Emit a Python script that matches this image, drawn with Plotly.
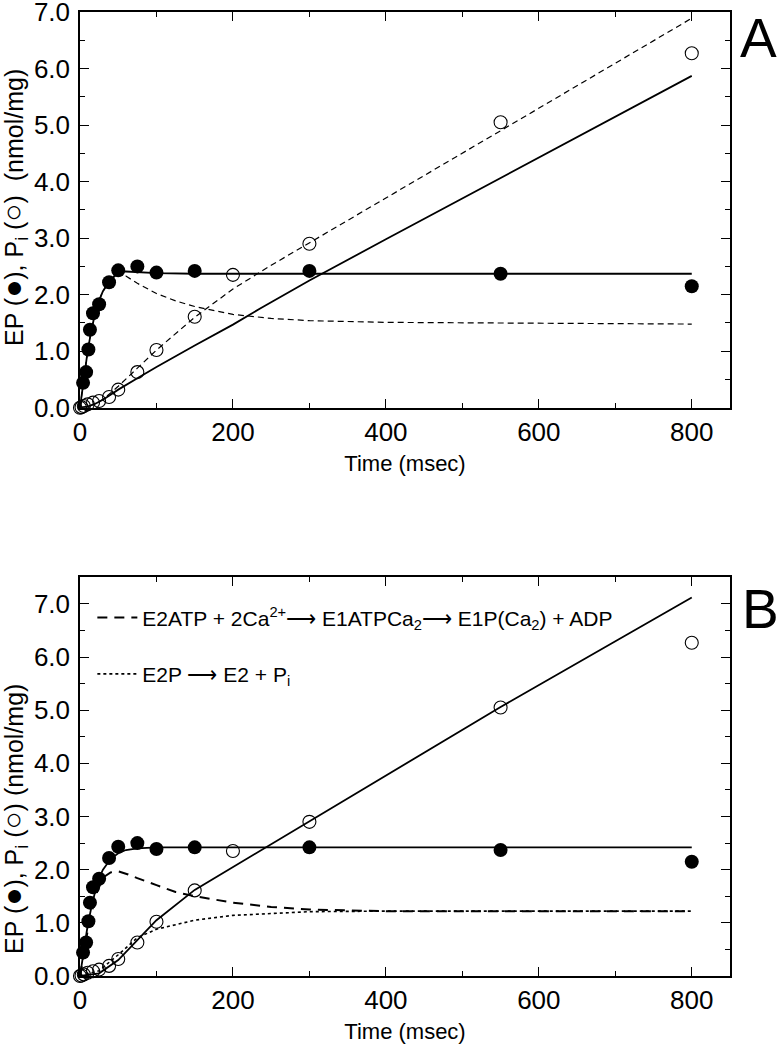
import plotly.graph_objects as go

# ---------------- data ----------------
# Measured points (same data in both panels)
t_ep = [4, 8, 11, 13, 17, 25, 38, 50, 75, 100, 150, 300, 550, 800]
ep = [0.44, 0.63, 1.03, 1.38, 1.67, 1.83, 2.22, 2.43, 2.50, 2.39, 2.42, 2.42, 2.37, 2.15]

t_pi = [0, 2, 5, 10, 17, 25, 38, 50, 75, 100, 150, 200, 300, 550, 800]
pi = [0.0, 0.01, 0.03, 0.06, 0.09, 0.12, 0.19, 0.32, 0.63, 1.02, 1.61, 2.35, 2.90, 5.05, 6.27]

# Panel A simulated curves
tA_ep_fit = [0, 5, 10, 15, 20, 25, 30, 40, 50, 60, 75, 100, 150, 200, 400, 800]
yA_ep_fit = [0, 0.55, 1.0, 1.38, 1.68, 1.90, 2.06, 2.27, 2.38, 2.41, 2.40, 2.38, 2.37, 2.37, 2.37, 2.37]
tA_pi_fit = [0, 10, 20, 30, 40, 50, 75, 100, 150, 200, 235, 300, 400, 500, 600, 700, 800]
yA_pi_fit = [0, 0.02, 0.07, 0.14, 0.23, 0.32, 0.52, 0.72, 1.10, 1.47, 1.75, 2.25, 2.98, 3.70, 4.42, 5.14, 5.87]
tA_ep_dash = [0, 5, 10, 15, 20, 25, 30, 40, 50, 60, 75, 100, 125, 150, 200, 250, 300, 400, 500, 600, 800]
yA_ep_dash = [0, 0.55, 1.0, 1.38, 1.68, 1.90, 2.06, 2.27, 2.36, 2.33, 2.20, 2.02, 1.89, 1.79, 1.65, 1.58, 1.54, 1.51, 1.50, 1.49, 1.48]
tA_pi_dash = [0, 10, 20, 30, 40, 50, 75, 100, 150, 200, 250, 300, 400, 550, 800]
yA_pi_dash = [0, 0.02, 0.07, 0.15, 0.26, 0.38, 0.70, 1.02, 1.60, 2.10, 2.52, 2.92, 3.71, 4.90, 6.89]

# Panel B simulated curves
tB_ep_fit = [0, 5, 10, 15, 20, 25, 30, 40, 50, 60, 75, 100, 200, 400, 800]
yB_ep_fit = [0, 0.50, 0.95, 1.30, 1.60, 1.84, 2.00, 2.20, 2.31, 2.37, 2.40, 2.42, 2.42, 2.42, 2.42]
tB_pi_fit = [0, 25, 50, 75, 100, 150, 200, 250, 300, 400, 550, 800]
yB_pi_fit = [0, 0.05, 0.30, 0.68, 1.05, 1.62, 2.05, 2.47, 2.90, 3.77, 5.06, 7.12]
tB_dash = [0, 10, 20, 30, 40, 50, 63, 75, 100, 125, 150, 200, 250, 300, 400, 500, 800]
yB_dash = [0, 0.85, 1.50, 1.85, 1.95, 1.97, 1.91, 1.84, 1.71, 1.58, 1.50, 1.38, 1.30, 1.25, 1.22, 1.22, 1.22]
tB_dot = [0, 25, 50, 75, 100, 150, 200, 250, 300, 400, 800]
yB_dot = [0, 0.10, 0.40, 0.72, 0.88, 1.05, 1.14, 1.18, 1.21, 1.22, 1.22]

legend_dash = "E2ATP + 2Ca<sup>2+</sup>⟶ E1ATPCa<sub>2</sub>⟶ E1P(Ca<sub>2</sub>) + ADP"
legend_dot = "E2P ⟶ E2 + P<sub>i</sub>"

x_ticks = [0, 200, 400, 600, 800]
BIG = '<span style="font-size:30px">{}</span>'
ytitle_A = "EP (" + BIG.format("●") + "), P<sub>i</sub> (" + BIG.format("○") + ")\u00a0\u00a0(nmol/mg)"
ytitle_B = "EP (" + BIG.format("●") + "), P<sub>i</sub> (" + BIG.format("○") + ") (nmol/mg)"

FONT = "Liberation Sans, Arial, Helvetica, sans-serif"
BLACK = "black"

fig = go.Figure()

def add_line(x, y, xa, ya, width, dash="solid", name=None, show=False, group=None):
    fig.add_trace(go.Scatter(x=x, y=y, xaxis=xa, yaxis=ya, mode="lines",
                             line=dict(color=BLACK, width=width, dash=dash),
                             name=name, showlegend=show, legendgroup=group,
                             hoverinfo="skip"))

def add_points(xa, ya):
    fig.add_trace(go.Scatter(x=t_pi, y=pi, xaxis=xa, yaxis=ya, mode="markers",
                             marker=dict(symbol="circle-open", size=13, color=BLACK,
                                         line=dict(width=1.1, color=BLACK)),
                             showlegend=False, cliponaxis=False))
    fig.add_trace(go.Scatter(x=t_ep, y=ep, xaxis=xa, yaxis=ya, mode="markers",
                             marker=dict(symbol="circle", size=14, color=BLACK),
                             showlegend=False, cliponaxis=False))

# Panel A
add_line(tA_ep_dash, yA_ep_dash, "x", "y", 1.2, "6px,4px")
add_line(tA_pi_dash, yA_pi_dash, "x", "y", 1.2, "6px,4px")
add_line(tA_ep_fit, yA_ep_fit, "x", "y", 1.8)
add_line(tA_pi_fit, yA_pi_fit, "x", "y", 1.8)
add_points("x", "y")

# Panel B
add_line(tB_dash, yB_dash, "x2", "y2", 2.0, "10px,7px", name=legend_dash, show=True, group="g1")
add_line(tB_dot, yB_dot, "x2", "y2", 1.6, "dot", name=legend_dot, show=True, group="g2")
add_line(tB_ep_fit, yB_ep_fit, "x2", "y2", 1.8)
add_line(tB_pi_fit, yB_pi_fit, "x2", "y2", 1.8)
add_points("x2", "y2")

axis_common = dict(showline=True, linecolor=BLACK, linewidth=1.5, mirror="ticks",
                   ticks="inside", ticklen=9, tickwidth=1.3, tickcolor=BLACK,
                   showgrid=False, zeroline=False, automargin=False,
                   ticklabeloverflow="allow",
                   tickfont=dict(family=FONT, size=26, color=BLACK))

xa = dict(axis_common, range=[0, 850], tickvals=x_ticks, ticktext=[str(v) for v in x_ticks],
          minor=dict(ticks="inside", ticklen=5, tickwidth=1.3, tickcolor=BLACK, dtick=100, tick0=0),
          title=dict(text="Time (msec)", font=dict(family=FONT, size=22, color=BLACK), standoff=10))
ya = dict(axis_common, tickformat=".1f", dtick=1, tick0=0, ticklabelstandoff=3,
          minor=dict(ticks="inside", ticklen=5, tickwidth=1.3, tickcolor=BLACK, dtick=0.5, tick0=0))

fig.update_layout(
    width=778, height=1050,
    margin=dict(l=80, r=48, t=12, b=74, autoexpand=False),
    paper_bgcolor="white", plot_bgcolor="white",
    font=dict(family=FONT, color=BLACK),
    xaxis=dict(xa, domain=[0, 1], anchor="y"),
    yaxis=dict(ya, domain=[0.5895, 1], range=[0, 7], anchor="x"),
    xaxis2=dict(xa, domain=[0, 1], anchor="y2"),
    yaxis2=dict(ya, domain=[0, 0.4136], range=[0, 7.5], anchor="x2"),
    legend=dict(x=0.019, y=0.3927, xanchor="left", yanchor="top",
                font=dict(family=FONT, size=21, color=BLACK),
                bgcolor="rgba(0,0,0,0)", borderwidth=0, tracegroupgap=26,
                itemwidth=40),
    showlegend=True,
    annotations=[
        dict(text=ytitle_A, xref="paper", yref="paper", x=-0.1015, y=0.7967,
             textangle=-90, showarrow=False, xanchor="center", yanchor="middle",
             font=dict(family=FONT, size=25, color=BLACK)),
        dict(text=ytitle_B, xref="paper", yref="paper", x=-0.1015, y=0.163,
             textangle=-90, showarrow=False, xanchor="center", yanchor="middle",
             font=dict(family=FONT, size=25, color=BLACK)),
        dict(text="A", xref="paper", yref="paper", x=1.0, xshift=8, y=0.9731,
             showarrow=False, xanchor="left", yanchor="middle",
             font=dict(family=FONT, size=55, color=BLACK)),
        dict(text="B", xref="paper", yref="paper", x=1.0, xshift=10, y=0.3807,
             showarrow=False, xanchor="left", yanchor="middle",
             font=dict(family=FONT, size=55, color=BLACK)),
    ],
)

fig.write_html("out.html", config={"displayModeBar": False},
               post_script="document.body.style.margin='0px';")
